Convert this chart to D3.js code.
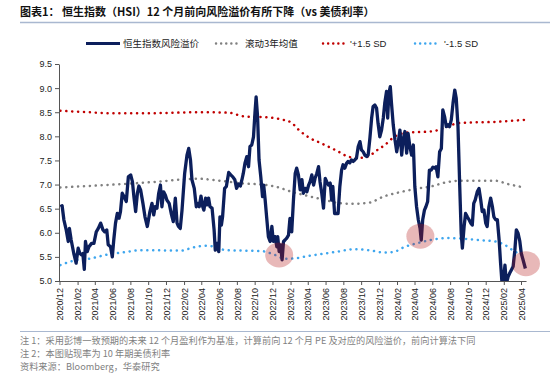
<!DOCTYPE html>
<html>
<head>
<meta charset="utf-8">
<script src="https://cdn.jsdelivr.net/npm/d3@7"></script>
<style>
  body { margin: 0; background: #fff; }
  svg { display: block; font-family: "Liberation Sans", Arial, sans-serif; }
  .cjk { font-family: "Noto Sans CJK SC", sans-serif; }
</style>
</head>
<body>
<svg id="chart"></svg>
<script>
// 恒生指数风险溢价 (weekly)
const premium = [
  ["2020-12-04",6.54],["2020-12-10",6.56],["2020-12-16",6.27],["2020-12-24",6.06],["2020-12-31",5.82],
  ["2021-01-04",6.09],["2021-01-10",5.85],["2021-01-19",5.57],["2021-01-27",5.37],["2021-02-03",5.68],
  ["2021-02-09",5.57],["2021-02-15",5.54],["2021-02-19",5.57],["2021-02-24",5.24],["2021-02-28",5.82],
  ["2021-03-06",5.61],["2021-03-12",5.71],["2021-03-21",5.78],["2021-03-29",5.78],["2021-04-06",6.02],
  ["2021-04-13",6.09],["2021-04-21",6.20],["2021-04-29",6.06],["2021-05-05",6.02],["2021-05-12",6.06],
  ["2021-05-17",5.75],["2021-05-25",5.71],["2021-05-31",5.50],["2021-06-05",5.85],["2021-06-11",6.20],
  ["2021-06-17",6.40],["2021-06-23",6.30],["2021-06-28",6.44],["2021-07-04",6.82],["2021-07-10",6.75],
  ["2021-07-18",6.65],["2021-07-25",7.16],["2021-08-02",7.20],["2021-08-08",7.06],["2021-08-13",6.75],
  ["2021-08-19",6.44],["2021-08-25",6.82],["2021-08-30",6.97],["2021-09-05",6.89],["2021-09-13",6.61],
  ["2021-09-20",6.33],["2021-09-28",6.13],["2021-10-07",6.44],["2021-10-14",6.61],["2021-10-20",6.37],
  ["2021-10-25",6.54],["2021-10-31",6.51],["2021-11-06",6.82],["2021-11-12",6.99],["2021-11-17",6.54],
  ["2021-11-23",6.85],["2021-11-29",6.78],["2021-12-04",6.68],["2021-12-12",6.61],["2021-12-19",6.40],
  ["2021-12-26",6.23],["2022-01-02",6.72],["2022-01-08",6.20],["2022-01-13",6.13],["2022-01-19",6.09],
  ["2022-01-25",6.47],["2022-02-03",7.23],["2022-02-11",7.61],["2022-02-17",7.75],["2022-02-23",7.51],
  ["2022-02-28",7.10],["2022-03-08",6.92],["2022-03-15",6.54],["2022-03-21",6.61],["2022-03-25",6.54],
  ["2022-03-31",6.76],["2022-04-06",6.54],["2022-04-10",6.47],["2022-04-16",6.72],["2022-04-21",6.58],
  ["2022-04-26",6.72],["2022-05-01",6.54],["2022-05-08",6.51],["2022-05-15",6.06],["2022-05-19",5.64],
  ["2022-05-25",5.78],["2022-05-31",5.61],["2022-06-04",6.33],["2022-06-09",6.16],["2022-06-13",6.33],
  ["2022-06-20",6.92],["2022-06-26",6.96],["2022-07-04",7.25],["2022-07-11",7.20],["2022-07-18",7.16],
  ["2022-07-25",7.10],["2022-07-31",6.92],["2022-08-07",7.01],["2022-08-13",6.97],["2022-08-19",7.12],
  ["2022-08-23",7.23],["2022-08-29",7.45],["2022-09-04",7.58],["2022-09-10",7.37],["2022-09-15",7.79],
  ["2022-09-21",7.82],["2022-09-27",7.99],["2022-10-02",8.48],["2022-10-06",8.82],["2022-10-11",8.41],
  ["2022-10-16",7.51],["2022-10-22",7.16],["2022-10-28",6.75],["2022-11-01",6.99],["2022-11-06",6.68],
  ["2022-11-11",6.33],["2022-11-17",5.92],["2022-11-23",5.82],["2022-11-29",6.13],["2022-12-04",5.82],
  ["2022-12-10",5.92],["2022-12-16",5.71],["2022-12-19",5.92],["2022-12-24",5.61],["2022-12-29",5.75],
  ["2023-01-03",5.44],["2023-01-08",5.82],["2023-01-13",5.85],["2023-01-19",5.89],["2023-01-25",5.95],
  ["2023-01-30",6.30],["2023-02-05",6.02],["2023-02-11",6.68],["2023-02-17",7.23],["2023-02-22",7.34],
  ["2023-02-28",7.20],["2023-03-06",6.89],["2023-03-12",7.10],["2023-03-17",6.82],["2023-03-23",6.92],
  ["2023-03-29",6.85],["2023-04-04",6.99],["2023-04-09",7.06],["2023-04-15",7.20],["2023-04-21",6.99],
  ["2023-04-26",7.13],["2023-05-02",7.23],["2023-05-08",7.37],["2023-05-13",7.06],["2023-05-19",6.82],
  ["2023-05-25",6.51],["2023-05-31",7.13],["2023-06-05",7.06],["2023-06-11",6.99],["2023-06-17",7.03],
  ["2023-06-22",6.68],["2023-06-26",6.96],["2023-07-02",6.40],["2023-07-09",6.40],["2023-07-14",6.40],
  ["2023-07-20",6.96],["2023-07-26",7.30],["2023-07-31",7.41],["2023-08-06",7.34],["2023-08-12",7.44],
  ["2023-08-17",7.48],["2023-08-23",7.45],["2023-08-29",7.51],["2023-09-04",7.48],["2023-09-09",7.51],
  ["2023-09-15",7.55],["2023-09-21",7.79],["2023-09-27",7.89],["2023-10-02",7.72],["2023-10-08",7.68],
  ["2023-10-14",7.61],["2023-10-20",7.58],["2023-10-25",7.61],["2023-10-31",7.96],["2023-11-06",8.38],
  ["2023-11-11",8.62],["2023-11-17",8.65],["2023-11-23",8.58],["2023-11-28",8.27],["2023-12-04",7.99],
  ["2023-12-10",8.13],["2023-12-16",8.38],["2023-12-21",8.69],["2023-12-27",8.93],["2023-12-31",8.38],
  ["2024-01-04",8.89],["2024-01-09",9.03],["2024-01-13",8.69],["2024-01-19",8.24],["2024-01-25",7.93],
  ["2024-01-31",7.68],["2024-02-05",7.86],["2024-02-11",8.13],["2024-02-17",7.61],["2024-02-22",7.93],
  ["2024-02-28",8.10],["2024-03-05",7.65],["2024-03-10",8.06],["2024-03-16",7.79],["2024-03-22",7.61],
  ["2024-03-28",7.82],["2024-04-02",6.96],["2024-04-08",6.54],["2024-04-14",6.27],["2024-04-20",6.09],
  ["2024-04-24",5.85],["2024-04-29",6.27],["2024-05-05",6.47],["2024-05-10",6.54],["2024-05-16",6.65],
  ["2024-05-22",7.30],["2024-05-28",7.30],["2024-06-03",7.36],["2024-06-09",7.34],["2024-06-14",7.37],
  ["2024-06-20",7.16],["2024-06-26",7.68],["2024-07-02",7.75],["2024-07-07",8.55],["2024-07-13",8.41],
  ["2024-07-19",8.20],["2024-07-25",8.24],["2024-07-30",8.20],["2024-08-05",8.34],["2024-08-11",8.69],
  ["2024-08-17",8.96],["2024-08-22",8.79],["2024-08-28",8.20],["2024-09-03",6.96],["2024-09-08",5.99],
  ["2024-09-12",5.68],["2024-09-18",6.13],["2024-09-23",6.40],["2024-09-29",6.33],["2024-10-05",6.27],
  ["2024-10-11",6.20],["2024-10-16",6.16],["2024-10-21",6.61],["2024-10-26",6.68],["2024-11-02",6.85],
  ["2024-11-08",6.92],["2024-11-14",6.68],["2024-11-19",6.44],["2024-11-25",6.47],["2024-12-01",6.20],
  ["2024-12-06",6.13],["2024-12-12",6.54],["2024-12-18",6.72],["2024-12-24",6.54],["2024-12-29",6.33],
  ["2025-01-04",6.27],["2025-01-10",6.27],["2025-01-16",5.85],["2025-01-21",5.37],["2025-01-26",4.95],
  ["2025-02-01",5.09],["2025-02-05",5.33],["2025-02-10",4.95],["2025-02-16",5.09],["2025-02-21",5.16],
  ["2025-02-27",5.23],["2025-03-05",5.30],["2025-03-11",5.64],["2025-03-16",6.06],["2025-03-22",5.99],
  ["2025-03-28",5.82],["2025-04-02",5.57],["2025-04-08",5.44],["2025-04-16",5.26]
];

// 滚动3年均值
const rollingMean = [
  ["2020-12-04",6.94],["2021-03-11",6.97],["2021-07-04",7.01],["2021-10-13",7.05],["2022-03-23",7.12],
  ["2022-05-19",7.09],["2022-08-28",7.02],["2022-10-25",7.00],["2022-12-10",6.96],["2023-02-05",6.85],
  ["2023-04-04",6.76],["2023-05-31",6.68],["2023-07-13",6.62],["2023-08-29",6.60],["2023-10-25",6.62],
  ["2023-12-21",6.76],["2024-02-17",6.85],["2024-04-14",6.92],["2024-05-27",6.96],["2024-07-13",7.04],
  ["2024-09-08",7.08],["2024-11-05",7.08],["2025-01-01",7.08],["2025-02-16",7.01],["2025-04-11",6.94]
];

// '+1.5 SD
const upperBand = [
  ["2020-12-04",8.53],["2021-03-12",8.50],["2021-05-19",8.48],["2021-10-13",8.48],["2022-03-23",8.50],
  ["2022-07-04",8.49],["2022-08-07",8.44],["2022-08-29",8.41],["2022-10-25",8.40],["2023-01-02",8.35],
  ["2023-02-05",8.28],["2023-02-28",8.14],["2023-04-04",7.98],["2023-05-19",7.85],["2023-07-13",7.69],
  ["2023-08-17",7.58],["2023-09-19",7.55],["2023-10-29",7.59],["2023-11-17",7.68],["2023-12-21",7.82],
  ["2024-01-25",8.00],["2024-03-10",8.08],["2024-05-27",8.10],["2024-09-08",8.28],["2025-01-01",8.30],
  ["2025-04-11",8.34]
];

// '-1.5 SD
const lowerBand = [
  ["2020-12-04",5.33],["2021-01-25",5.43],["2021-03-12",5.46],["2021-05-08",5.54],["2021-07-04",5.59],
  ["2021-09-11",5.64],["2022-01-25",5.63],["2022-02-28",5.69],["2022-04-15",5.73],["2022-05-19",5.71],
  ["2022-06-23",5.64],["2022-10-25",5.62],["2022-12-10",5.54],["2023-01-13",5.46],["2023-02-17",5.47],
  ["2023-04-04",5.52],["2023-05-31",5.57],["2023-07-13",5.61],["2023-09-09",5.66],["2023-10-25",5.64],
  ["2023-12-21",5.59],["2024-01-19",5.60],["2024-02-28",5.71],["2024-04-14",5.79],["2024-06-03",5.86],
  ["2024-07-25",5.89],["2024-09-08",5.88],["2024-11-05",5.85],["2025-01-01",5.82],["2025-02-04",5.75],
  ["2025-03-11",5.61],["2025-04-11",5.54]
];

// circled lows
const highlights = [["2022-12-24",5.54],["2024-04-21",5.93],["2025-04-18",5.36]];

const yTicks = [5.0,5.5,6.0,6.5,7.0,7.5,8.0,8.5,9.0,9.5];
const xTickStart = "2020-12-01", xTickEnd = "2025-04-01";

const titleText = "图表1：  恒生指数（HSI）12 个月前向风险溢价有所下降（vs  美债利率）";
const notes = [
  "注 1：采用彭博一致预期的未来 12 个月盈利作为基准，计算前向 12 个月 PE 及对应的风险溢价，前向计算法下同",
  "注 2：本图贴现率为 10 年期美债利率",
  "资料来源：Bloomberg，华泰研究"
];
const legendItems = [
  {label: "恒生指数风险溢价", key: "main"},
  {label: "滚动3年均值", key: "mean"},
  {label: "'+1.5 SD", key: "upper"},
  {label: "'-1.5 SD", key: "lower"}
];

const width = 550, height = 375;
const margin = {top: 64, right: 24, bottom: 94, left: 59};
const colors = {main: "#0c1f5c", mean: "#808080", upper: "#c00000", lower: "#3ea6ee"};

const parse = d3.timeParse("%Y-%m-%d");
const svg = d3.select("#chart").attr("width", width).attr("height", height);

const x = d3.scaleTime()
  .domain([parse(xTickStart), parse(xTickEnd)])
  .range([margin.left + 0.5, 521]);
const y = d3.scaleLinear()
  .domain([5, 9.5])
  .range([height - margin.bottom, margin.top]);
const xEnd = x(parse("2025-04-20"));

// title + rule
svg.append("text").attr("class", "cjk")
  .attr("x", 20).attr("y", 16)
  .style("font-size", "11px").style("font-weight", "bold").attr("fill", "#111")
  .text(titleText);
svg.append("line").attr("x1", 20).attr("x2", width).attr("y1", 22.5).attr("y2", 22.5)
  .attr("stroke", "#a9b8d0").attr("stroke-width", 1.5);

// legend
const legendX = {main: 86, mean: 216, upper: 323, lower: 415};
const legendTextX = {main: 123, mean: 245, upper: 350, lower: 444};
const legY = 43.5;
const legend = svg.append("g");
legendItems.forEach((d) => {
  if (d.key === "main") {
    legend.append("line").attr("x1", legendX.main).attr("x2", legendX.main + 34)
      .attr("y1", legY).attr("y2", legY)
      .attr("stroke", colors.main).attr("stroke-width", 3.2);
  } else {
    legend.append("line").attr("x1", legendX[d.key]).attr("x2", legendX[d.key] + 25)
      .attr("y1", legY).attr("y2", legY)
      .attr("stroke", colors[d.key]).attr("stroke-width", 2.4)
      .attr("stroke-linecap", "round").attr("stroke-dasharray", "0.1 5");
  }
  legend.append("text").attr("class", d.key === "main" || d.key === "mean" ? "cjk" : null)
    .attr("x", legendTextX[d.key]).attr("y", legY).attr("dy", "0.35em")
    .style("font-size", "9.5px").attr("fill", "#222")
    .text(d.label);
});

// clip
svg.append("clipPath").attr("id", "plot-clip")
  .append("rect").attr("x", margin.left).attr("y", 0)
  .attr("width", width - margin.left).attr("height", y(5));

const lineGen = (curve) => d3.line()
  .x((d) => x(parse(d[0])))
  .y((d) => y(d[1]))
  .curve(curve);

const plot = svg.append("g").attr("clip-path", "url(#plot-clip)");

[[rollingMean, "mean"], [upperBand, "upper"], [lowerBand, "lower"]].forEach(([data, key]) => {
  plot.append("path").datum(data)
    .attr("d", lineGen(d3.curveMonotoneX))
    .attr("fill", "none").attr("stroke", colors[key])
    .attr("stroke-width", 2.5).attr("stroke-linecap", "round")
    .attr("stroke-dasharray", "0.1 5.8");
});

plot.append("path").datum(premium)
  .attr("d", lineGen(d3.curveLinear))
  .attr("fill", "none").attr("stroke", colors.main)
  .attr("stroke-width", 3.3).attr("stroke-linejoin", "round");

// highlight ellipses
svg.append("g").selectAll("ellipse").data(highlights).join("ellipse")
  .attr("cx", (d) => x(parse(d[0])))
  .attr("cy", (d) => y(d[1]))
  .attr("rx", 14).attr("ry", 12.5)
  .attr("fill", "rgba(180,20,20,0.3)");

// axes
const yAxis = svg.append("g")
  .attr("transform", `translate(${margin.left},0)`)
  .call(d3.axisLeft(y).tickValues(yTicks).tickFormat(d3.format(".1f")).tickSize(4).tickSizeOuter(0));
yAxis.selectAll("text").style("font-size", "9px").attr("fill", "#222").attr("x", -7);

const xTicks = d3.timeMonth.range(parse(xTickStart), d3.timeDay.offset(parse(xTickEnd), 1), 2);
const xAxis = svg.append("g")
  .attr("transform", `translate(0,${y(5)})`)
  .call(d3.axisBottom(x).tickValues(xTicks).tickFormat(d3.timeFormat("%Y/%m")).tickSize(4).tickSizeOuter(0));
xAxis.select(".domain").attr("d", `M${margin.left},0.5H${xEnd}`);
xAxis.selectAll("text")
  .style("font-size", "9px").attr("fill", "#222")
  .attr("text-anchor", "end")
  .attr("transform", "rotate(-90)")
  .attr("x", -7).attr("y", 0).attr("dy", "0.35em");
svg.selectAll(".domain, .tick line").attr("stroke", "#555");

// notes
svg.append("line").attr("x1", 20).attr("x2", width).attr("y1", 331.5).attr("y2", 331.5)
  .attr("stroke", "#a9b8d0").attr("stroke-width", 1.2);
svg.append("g").selectAll("text").data(notes).join("text")
  .attr("class", "cjk")
  .attr("x", 20).attr("y", (d, i) => 341 + i * 13).attr("dy", "0.35em")
  .style("font-size", "9.2px").attr("fill", "#7f7f7f")
  .text((d) => d);
</script>
</body>
</html>
